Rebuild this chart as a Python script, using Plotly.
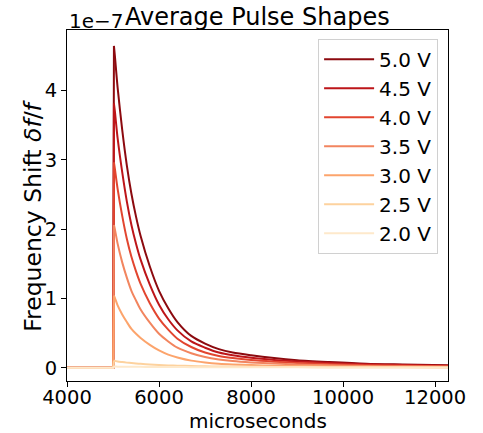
import plotly.graph_objects as go

# times in microseconds
times = [4000, 4500, 5005, 5020, 5040, 5100, 5200, 5300, 5400, 5500, 5600, 5800,
         6000, 6200, 6400, 6700, 7000, 7300, 7600, 8000, 8500, 9000, 9700,
         10500, 11300, 12300]

labels = ["5.0 V", "4.5 V", "4.0 V", "3.5 V", "3.0 V", "2.5 V", "2.0 V"]

# values in units of 1e-7
v50 = [0, 0, 0, 4.64, 4.50, 4.04, 3.43, 2.92, 2.51, 2.18, 1.90, 1.46, 1.11, 0.86, 0.66, 0.46,
       0.35, 0.27, 0.22, 0.18, 0.14, 0.11, 0.084, 0.06, 0.049, 0.037]
v45 = [0, 0, 0, 3.81, 3.70, 3.31, 2.82, 2.40, 2.06, 1.79, 1.56, 1.20, 0.91, 0.70, 0.54, 0.38,
       0.29, 0.22, 0.18, 0.145, 0.114, 0.091, 0.069, 0.05, 0.04, 0.03]
v40 = [0, 0, 0, 2.96, 2.87, 2.58, 2.19, 1.86, 1.60, 1.39, 1.21, 0.93, 0.71, 0.55, 0.42, 0.30,
       0.22, 0.17, 0.14, 0.112, 0.089, 0.071, 0.053, 0.038, 0.031, 0.024]
v35 = [0, 0, 0, 2.06, 2.00, 1.79, 1.52, 1.30, 1.11, 0.97, 0.84, 0.65, 0.49, 0.38, 0.29, 0.21,
       0.155, 0.12, 0.097, 0.078, 0.062, 0.049, 0.037, 0.027, 0.022, 0.016]
v30 = [0, 0, 0, 1.04, 1.01, 0.90, 0.77, 0.66, 0.56, 0.49, 0.43, 0.33, 0.25, 0.19, 0.15, 0.104,
       0.078, 0.06, 0.049, 0.04, 0.031, 0.025, 0.019, 0.014, 0.011, 0.008]
v25 = [0, 0, 0, 0.105, 0.10, 0.092, 0.083, 0.075, 0.068, 0.062, 0.057, 0.048, 0.041, 0.035,
       0.031, 0.026, 0.022, 0.019, 0.017, 0.015, 0.013, 0.011, 0.009, 0.008, 0.007, 0.006]
v20 = [0, 0, 0, 0.018, 0.018, 0.017, 0.016, 0.015, 0.015, 0.014, 0.014, 0.013, 0.012, 0.011,
       0.011, 0.010, 0.009, 0.009, 0.008, 0.008, 0.007, 0.007, 0.006, 0.006, 0.005, 0.005]

series = [v50, v45, v40, v35, v30, v25, v20]
colors = ["#8c0a0f", "#bd1519", "#e2452f", "#f2855f", "#fca46c", "#fdd29e", "#fee9cb"]

SCALE = 1e-7
ytick_vals = [0, 1, 2, 3, 4]
xtick_vals = [4000, 6000, 8000, 10000, 12000]
xtick_text = ["4000", "6000", "8000", "10000", "12000"]

PEAK = 3  # index of the pulse peak in `times`

fig = go.Figure()
for lab, vals, col in zip(labels, series, colors):
    ys = [v * SCALE for v in vals]
    # baseline + rise (straight)
    fig.add_trace(go.Scatter(x=times[:PEAK + 1], y=ys[:PEAK + 1], mode="lines",
                             name=lab, legendgroup=lab,
                             line=dict(color=col, width=2)))
    # decay (smooth)
    fig.add_trace(go.Scatter(x=times[PEAK:], y=ys[PEAK:], mode="lines",
                             name=lab, legendgroup=lab, showlegend=False,
                             line=dict(color=col, width=2, shape="spline", smoothing=0.8)))

font = "DejaVu Sans"
fig.update_layout(
    width=483, height=433,
    margin=dict(l=67, r=35, t=30, b=52),
    paper_bgcolor="white", plot_bgcolor="white",
    font=dict(family=font, size=20, color="black"),
    showlegend=True,
    legend=dict(x=0.974, y=0.975, xanchor="right", yanchor="top",
                bgcolor="white", bordercolor="#d0d0d0", borderwidth=1,
                font=dict(size=20), itemwidth=50, tracegroupgap=0),
    xaxis=dict(range=[4000, 12280], tickvals=xtick_vals, ticktext=xtick_text,
               ticks="outside", ticklen=5, tickcolor="black",
               tickfont=dict(size=19.5), ticklabelstandoff=-6,
               showline=True, linecolor="black", linewidth=1, mirror=True,
               showgrid=False, zeroline=False, automargin=False),
    yaxis=dict(range=[-0.19 * SCALE, 4.87 * SCALE],
               tickvals=[v * SCALE for v in ytick_vals],
               ticktext=[str(v) for v in ytick_vals],
               ticks="outside", ticklen=5, tickcolor="black",
               tickfont=dict(size=19.5),
               showline=True, linecolor="black", linewidth=1, mirror=True,
               showgrid=False, zeroline=False, automargin=False),
    annotations=[
        dict(text="Average Pulse Shapes", x=0.5, y=1.0, xref="paper", yref="paper",
             xanchor="center", yanchor="bottom", yshift=-3, showarrow=False,
             font=dict(size=24)),
        dict(text="1e\u22127", x=0, y=1.0, xref="paper", yref="paper",
             xanchor="left", yanchor="bottom", showarrow=False, yshift=-5,
             font=dict(size=20)),
        dict(text="microseconds", x=0.5, y=-0.114, xref="paper", yref="paper",
             xanchor="center", yanchor="middle", showarrow=False,
             font=dict(size=20)),
        dict(text="Frequency Shift <i>δf</i>/<i>f</i>", x=-0.09, y=0.47,
             xref="paper", yref="paper", xanchor="center", yanchor="middle",
             textangle=-90, showarrow=False, font=dict(size=23.5)),
    ],
)

fig.write_html("out.html", config={"displayModeBar": False},
               post_script="document.body.style.margin='0';")
